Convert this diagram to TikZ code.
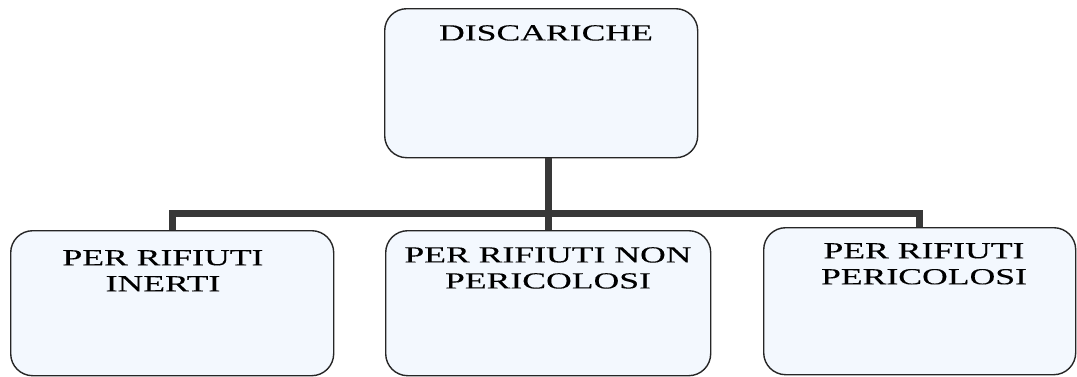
\documentclass[tikz,border=0pt]{standalone}
\usepackage{fontspec}
\setmainfont{Liberation Serif}[FakeStretch=1.55,FakeBold=0.15]
\definecolor{boxfill}{HTML}{F3F8FE}
\definecolor{connc}{HTML}{383838}

\begin{document}
\begin{tikzpicture}[x=1pt,y=-1pt,
    box/.style={draw=black!85, line width=1.4pt, rounded corners=22pt, fill=boxfill,
      anchor=north west, inner sep=0pt},
    lbl/.style={anchor=north, align=center, inner sep=0pt,
      font=\fontsize{23}{26}\selectfont},
    conn/.style={draw=connc, line width=7pt}]
    \useasboundingbox (0,0) rectangle (1077,376);
    \node[box, minimum width=313pt, minimum height=149pt] (n0) at (384,8) {};
    \node[box, minimum width=323pt, minimum height=145pt] (n1) at (10,230) {};
    \node[box, minimum width=325pt, minimum height=145pt] (n2) at (385,230) {};
    \node[box, minimum width=312pt, minimum height=147pt] (n3) at (763,227) {};
    \node[lbl] (l0) at (546,25) {DISCARICHE};
    \node[lbl] (l1) at (163,250) {PER RIFIUTI\\INERTI};
    \node[lbl] (l2) at (548,247) {PER RIFIUTI NON\\PERICOLOSI};
    \node[lbl] (l3) at (924,243) {PER RIFIUTI\\PERICOLOSI};
    \coordinate (j) at (547,213);
    \draw[conn] (n2.north |- n0.south) -- (n2.north);
    \draw[conn] (n1.north) |- (j) -| (n3.north);
\end{tikzpicture}
\end{document}
